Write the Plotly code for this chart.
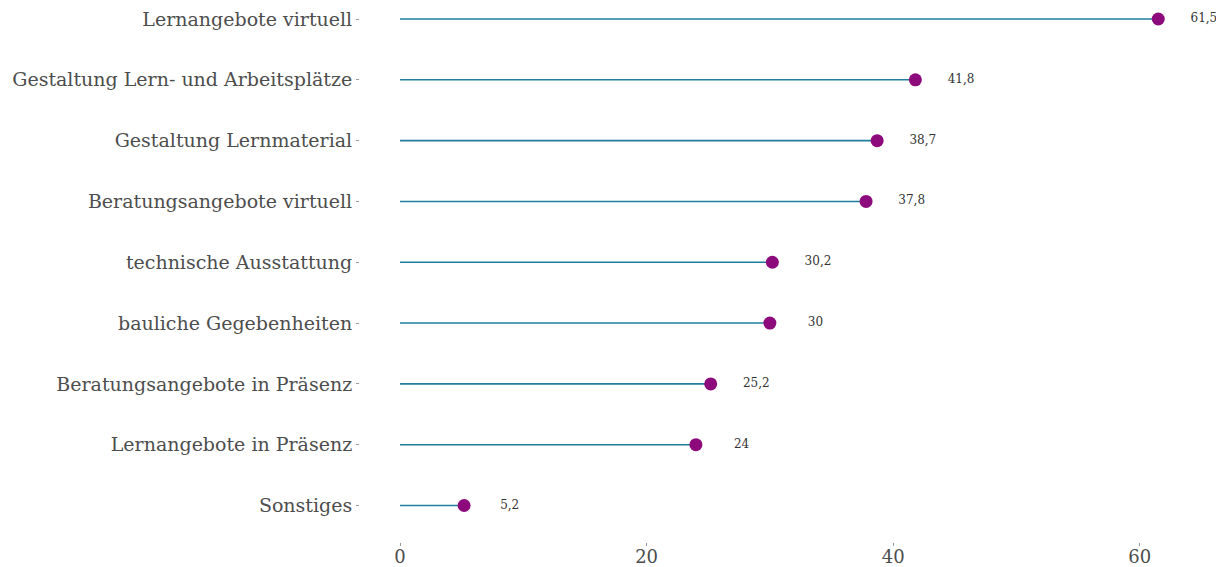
import plotly.graph_objects as go

categories = ["Sonstiges", "Lernangebote in Präsenz", "Beratungsangebote in Präsenz",
              "bauliche Gegebenheiten", "technische Ausstattung", "Beratungsangebote virtuell",
              "Gestaltung Lernmaterial", "Gestaltung Lern- und Arbeitsplätze", "Lernangebote virtuell"]
values = [5.2, 24, 25.2, 30, 30.2, 37.8, 38.7, 41.8, 61.5]
value_labels = ["5,2", "24", "25,2", "30", "30,2", "37,8", "38,7", "41,8", "61,5"]
x_ticks = [0, 20, 40, 60]

FONT = "DejaVu Serif"
GRAY = "#4d4d4d"
LINE = "#1f7c9c"
DOT = "#8c0a7b"

pos = list(range(1, len(categories) + 1))

seg_x, seg_y = [], []
for p, v in zip(pos, values):
    seg_x += [0, v, None]
    seg_y += [p, p, None]

fig = go.Figure()
fig.add_trace(go.Scatter(x=seg_x, y=seg_y, mode="lines",
                         line=dict(color=LINE, width=1.6), hoverinfo="skip", showlegend=False,
                         cliponaxis=False))
fig.add_trace(go.Scatter(x=values, y=pos, mode="markers",
                         marker=dict(color=DOT, size=13), showlegend=False, cliponaxis=False))
fig.add_trace(go.Scatter(x=[v + 3.7 for v in values], y=pos, mode="text",
                         text=value_labels, textposition="middle center",
                         textfont=dict(family=FONT, size=12, color="#333333"),
                         cliponaxis=False, showlegend=False))

fig.update_layout(
    width=1216, height=559,
    margin=dict(l=352, r=0, t=0, b=25),
    plot_bgcolor="white", paper_bgcolor="white",
    font=dict(family=FONT, color=GRAY),
    xaxis=dict(range=[-3.244, 66.83], tickvals=x_ticks, ticktext=[str(t) for t in x_ticks],
               showgrid=False, zeroline=False, showline=False, automargin=False,
               ticks="outside", ticklen=3, tickcolor="#999999", tickwidth=1,
               ticklabelstandoff=-5, ticklabeloverflow="allow",
               tickfont=dict(family=FONT, size=18, color=GRAY)),
    yaxis=dict(range=[0.4, 9.181], tickvals=pos, ticktext=categories,
               showgrid=False, zeroline=False, showline=False, automargin=False,
               ticks="outside", ticklen=3, tickcolor="#999999", tickwidth=1,
               ticklabeloverflow="allow",
               tickfont=dict(family=FONT, size=19, color=GRAY)),
)

fig.write_html("out.html")
